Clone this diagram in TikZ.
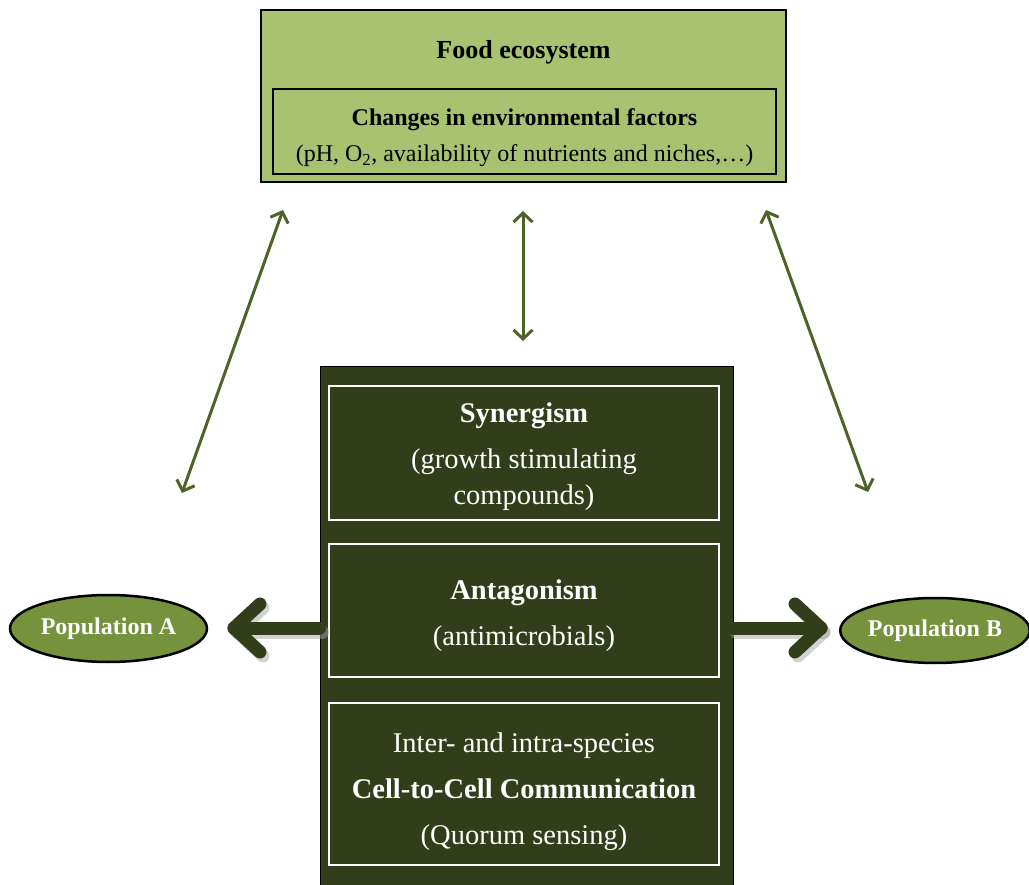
\documentclass[tikz,border=0pt]{standalone}
\usepackage{fontspec}
\setmainfont{Liberation Serif}
\usetikzlibrary{arrows.meta,shapes.geometric}
\definecolor{topgreen}{HTML}{A8C271}
\definecolor{darkolive}{HTML}{323D19}
\definecolor{popgreen}{HTML}{76923C}
\definecolor{thinarrow}{HTML}{4F6228}
\tikzset{
  topbox/.style={draw=black,line width=2.5pt,fill=topgreen,minimum width=525pt,minimum height=172pt,inner sep=0pt},
  envbox/.style={draw=black,line width=2.5pt,minimum width=503pt,minimum height=85pt,inner sep=0pt},
  envtext/.style={align=center,font=\fontsize{24}{36}\selectfont},
  darkbox/.style={draw=black,line width=1pt,fill=darkolive,minimum width=413pt,minimum height=520pt,inner sep=0pt},
  whitebox/.style={draw=white,line width=2.5pt,minimum width=390pt,inner sep=0pt},
  whitetext/.style={align=center,text=white,font=\fontsize{28.5}{46}\selectfont},
  pop/.style={ellipse,draw=black,line width=2.5pt,fill=popgreen,inner sep=0pt,text=white,font=\bfseries\fontsize{24}{26}\selectfont},
  thin/.style={draw=thinarrow,line width=3pt,{Straight Barb[length=9pt,width=19pt]}-{Straight Barb[length=9pt,width=19pt]}},
  thick/.style={draw=darkolive,line width=13pt,line cap=round,line join=round},
  thickshadow/.style={draw=black!35,opacity=0.5,line width=13pt,line cap=round,line join=round}
}
\begin{document}
\begin{tikzpicture}[x=1pt,y=-1pt]
\useasboundingbox (0,0) rectangle (1029,885);
% top box
\node[topbox] (food) at (523.5,96) {};
\node[font=\bfseries\fontsize{26}{28}\selectfont] (foodlbl) at (523.5,52) {Food ecosystem};
\node[envbox] (env) at (524.5,131.5) {};
\node[envtext] (envlbl) at (524.5,137.5) {\bfseries Changes in environmental factors\\(pH, O\textsubscript{2}, availability of nutrients and niches,\ldots)};
% central dark box
\node[darkbox] (mid) at (526.5,627) {};
\node[whitebox,minimum height=134pt] (syn) at (524,453) {};
\node[whitetext] (synlbl) at (524,457) {{\bfseries Synergism}\\(growth stimulating\\[-10pt]compounds)};
\node[whitebox,minimum height=133pt] (ant) at (524,610.5) {};
\node[whitetext] (antlbl) at (524,616) {{\bfseries Antagonism}\\(antimicrobials)};
\node[whitebox,minimum height=162pt] (com) at (524,784) {};
\node[whitetext] (comlbl) at (524,791.5) {Inter- and intra-species\\{\bfseries Cell-to-Cell Communication}\\(Quorum sensing)};
% populations
\node[pop,minimum width=197pt,minimum height=67pt] (popA) at (108.5,628.5) {Population A};
\node[pop,minimum width=186pt,minimum height=65pt] (popB) at (935,630.5) {Population B};
% thin arrows
\coordinate (ta) at (283,210);
\coordinate (tb) at (182,493);
\coordinate (tc) at (523,211);
\coordinate (td) at (523,341);
\coordinate (te) at (766,210);
\coordinate (tf) at (868,492);
\draw[thin] (ta) -- (tb);
\draw[thin] (tc) -- (td);
\draw[thin] (te) -- (tf);
% thick arrows
\coordinate (la) at (mid.west |- 0,628);
\coordinate (lt) at (234,628);
\coordinate (ra) at (mid.east |- 0,628);
\coordinate (rt) at (821,628);
\draw[thickshadow] ([shift={(3,4)}]la) -- ([shift={(3,4)}]lt);
\draw[thickshadow] ([shift={(29,-20)}]lt) -- ([shift={(3,4)}]lt) -- ([shift={(29,28)}]lt);
\draw[thickshadow] ([shift={(3,4)}]ra) -- ([shift={(3,4)}]rt);
\draw[thickshadow] ([shift={(-23,-20)}]rt) -- ([shift={(3,4)}]rt) -- ([shift={(-23,28)}]rt);
\draw[thick] (la) -- (lt);
\draw[thick] ([shift={(26,-24)}]lt) -- (lt) -- ([shift={(26,24)}]lt);
\draw[thick] (ra) -- (rt);
\draw[thick] ([shift={(-26,-24)}]rt) -- (rt) -- ([shift={(-26,24)}]rt);
\end{tikzpicture}
\end{document}
